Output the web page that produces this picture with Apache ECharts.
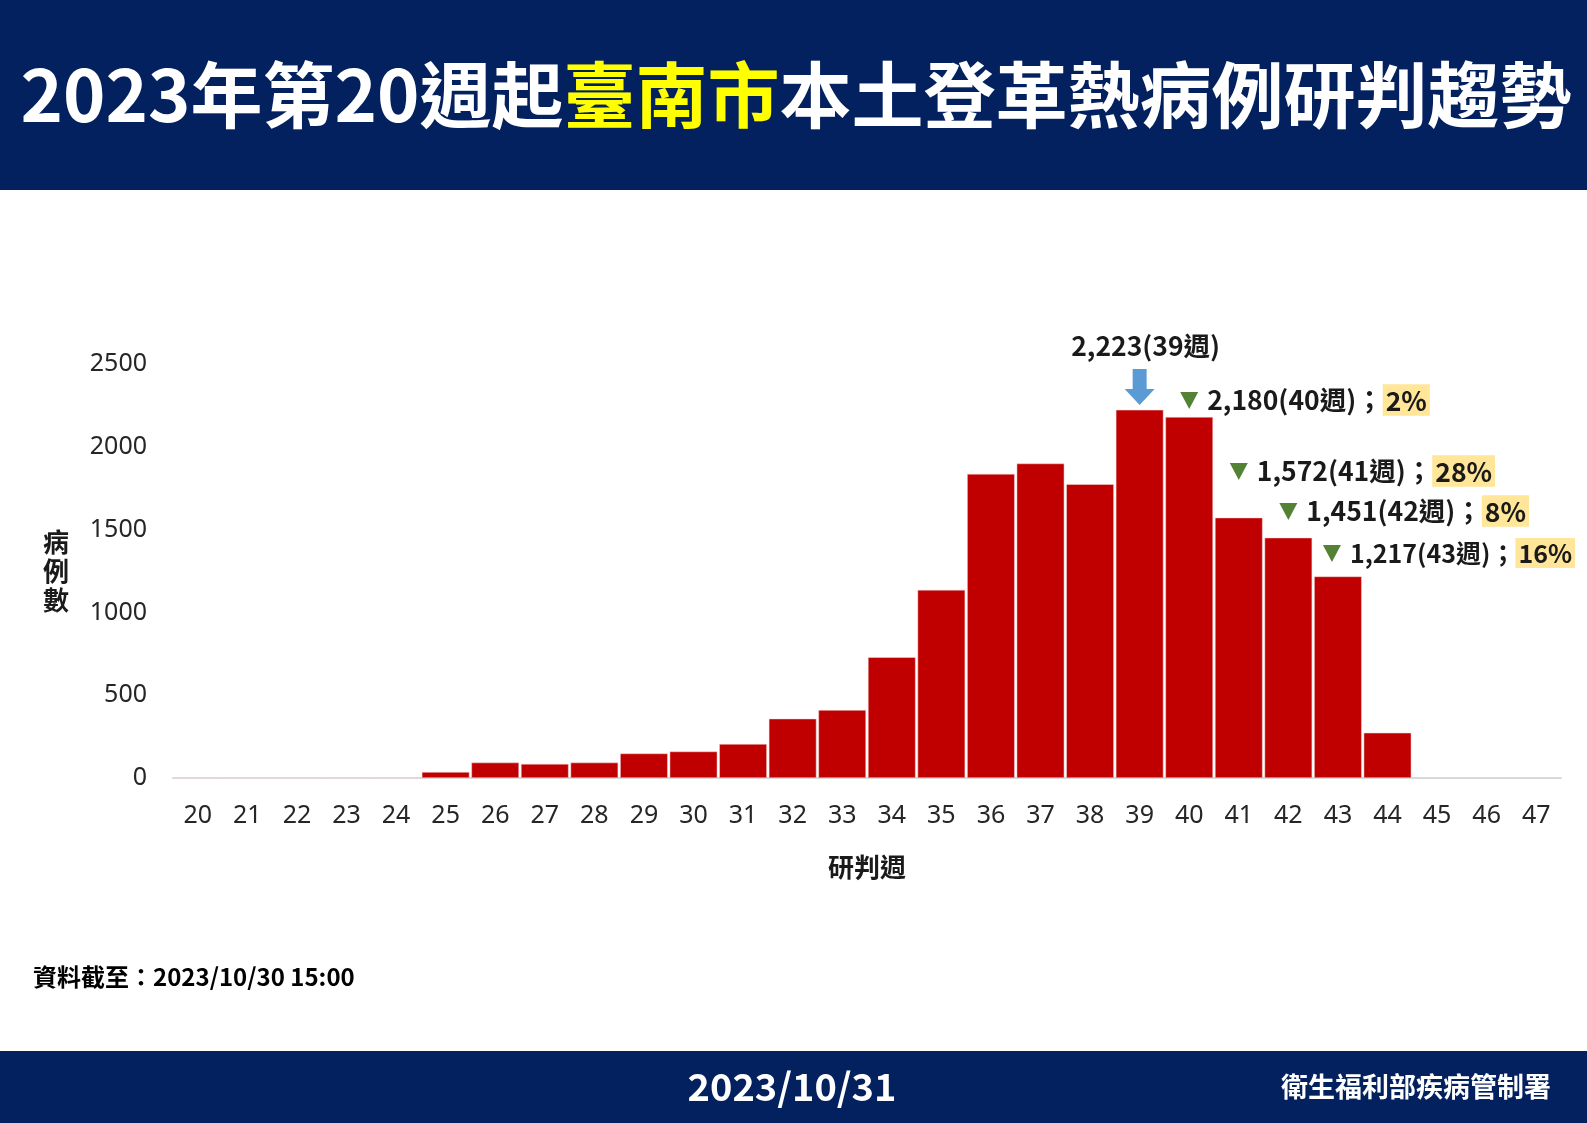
<!DOCTYPE html>
<html>
<head>
<meta charset="utf-8">
<script src="https://cdn.jsdelivr.net/npm/echarts@6/dist/echarts.min.js"></script>
<style>
  html, body { margin: 0; padding: 0; background: #fff; }
  #main { width: 1587px; height: 1123px; }
</style>
</head>
<body>
<div id="main"></div>
<script>
// data
var weeks = ['20', '21', '22', '23', '24', '25', '26', '27', '28', '29', '30', '31', '32', '33',
  '34', '35', '36', '37', '38', '39', '40', '41', '42', '43', '44', '45', '46', '47'];
var cases = [0, 0, 0, 0, 0, 36, 93, 85, 93, 148, 160, 205, 358, 410,
  729, 1136, 1836, 1899, 1774, 2223, 2180, 1572, 1451, 1217, 273, null, null, null];
var yTicks = [0, 500, 1000, 1500, 2000, 2500];
var peakWeek = '39';
var dropWeeks = ['40', '41', '42', '43'];
var dropRowY = [400, 471, 511, 553];
var dropRowShift = [0, 0, 0, -6];
var dropRowSize = [26.5, 26.5, 26.5, 25];

var navy = '#03215F';
var cjk = '"Noto Sans CJK TC", "Noto Sans", sans-serif';
var num = '"Noto Sans", "Noto Sans CJK TC", sans-serif';

var myChart = echarts.init(document.getElementById('main'));

function fmt(v) {
  return v.toLocaleString('en-US');
}

var option = {
  backgroundColor: '#fff',
  animation: false,
  grid: { left: 173, top: 364, width: 1388, height: 414 },
  xAxis: {
    type: 'category',
    data: weeks,
    name: '研判週',
    nameLocation: 'middle',
    nameGap: 76,
    nameTextStyle: { fontFamily: cjk, fontSize: 26, fontWeight: 'bold', color: '#1a1a1a' },
    axisLine: { lineStyle: { color: '#d9d9d9', width: 2 } },
    axisTick: { show: false },
    axisLabel: { fontFamily: num, fontSize: 25, color: '#262626', margin: 25 }
  },
  yAxis: {
    type: 'value',
    min: 0,
    max: yTicks[yTicks.length - 1],
    interval: 500,
    splitLine: { show: false },
    axisLine: { show: false },
    axisTick: { show: false },
    axisLabel: {
      fontFamily: num, fontSize: 25, color: '#262626', margin: 26,
      formatter: function (v) { return String(v); }
    }
  },
  series: [{
    type: 'bar',
    data: cases,
    barCategoryGap: '4%',
    itemStyle: { color: '#C00000', borderColor: '#f3d6d6', borderWidth: 0.5 }
  }]
};
myChart.setOption(option);

function buildGraphic() {
  var g = [];
  // header band and title
  g.push({ type: 'rect', shape: { x: 0, y: 0, width: 1587, height: 190 }, style: { fill: navy }, silent: true });
  g.push({
    type: 'text', x: 796, y: 95,
    style: {
      text: '{w|2023年第20週起}{y|臺南市}{w|本土登革熱病例研判趨勢}',
      align: 'center', verticalAlign: 'middle',
      rich: {
        w: { fill: '#fff', fontSize: 72, fontWeight: 'bold', fontFamily: cjk },
        y: { fill: '#FFFF00', fontSize: 72, fontWeight: 'bold', fontFamily: cjk }
      }
    }
  });
  // footer band
  g.push({ type: 'rect', shape: { x: 0, y: 1051, width: 1587, height: 72 }, style: { fill: navy }, silent: true });
  g.push({
    type: 'text', x: 792, y: 1087,
    style: { text: '2023/10/31', align: 'center', verticalAlign: 'middle', fill: '#fff', fontSize: 38, fontWeight: 'bold', fontFamily: cjk }
  });
  g.push({
    type: 'text', x: 1551, y: 1087,
    style: { text: '衛生福利部疾病管制署', align: 'right', verticalAlign: 'middle', fill: '#fff', fontSize: 27, fontWeight: 'bold', fontFamily: cjk }
  });
  // data note
  g.push({
    type: 'text', x: 33, y: 977,
    style: { text: '資料截至：2023/10/30 15:00', verticalAlign: 'middle', fill: '#000', fontSize: 24, fontWeight: 'bold', fontFamily: cjk }
  });
  // y axis name, vertical
  g.push({
    type: 'text', x: 56, y: 571,
    style: { text: '病\n例\n數', align: 'center', verticalAlign: 'middle', fill: '#1a1a1a', fontSize: 26, fontWeight: 'bold', fontFamily: cjk, lineHeight: 29 }
  });

  // peak annotation
  var pi = weeks.indexOf(peakWeek);
  var peak = myChart.convertToPixel({ seriesIndex: 0 }, [pi, cases[pi]]);
  g.push({
    type: 'text', x: peak[0] + 6, y: 346,
    style: { text: fmt(cases[pi]) + '(' + peakWeek + '週)', align: 'center', verticalAlign: 'middle', fill: '#1a1a1a', fontSize: 26.5, fontWeight: 'bold', fontFamily: cjk }
  });
  var ax = peak[0], at = 369;
  g.push({
    type: 'polygon',
    shape: { points: [[ax - 7, at], [ax + 7, at], [ax + 7, at + 20], [ax + 15, at + 20], [ax, at + 36], [ax - 15, at + 20], [ax - 7, at + 20]] },
    style: { fill: '#5B9BD5' }
  });

  // weekly drop annotations
  dropWeeks.forEach(function (w, k) {
    var i = weeks.indexOf(w);
    var cx = myChart.convertToPixel({ xAxisIndex: 0 }, w) + dropRowShift[k];
    var cy = dropRowY[k];
    var fs = dropRowSize[k];
    var pct = Math.round((cases[i - 1] - cases[i]) / cases[i - 1] * 100);
    g.push({
      type: 'polygon',
      shape: { points: [[cx - 9, cy - 8], [cx + 9, cy - 8], [cx, cy + 9]] },
      style: { fill: '#548235' }
    });
    g.push({
      type: 'text', x: cx + 18, y: cy,
      style: {
        text: '{v|' + fmt(cases[i]) + '(' + w + '週)；}{p|' + pct + '%}',
        verticalAlign: 'middle',
        rich: {
          v: { fill: '#1a1a1a', fontSize: fs, fontWeight: 'bold', fontFamily: cjk },
          p: { fill: '#1a1a1a', fontSize: fs, fontWeight: 'bold', fontFamily: cjk, backgroundColor: '#FFE699', padding: [3, 3, 2, 3] }
        }
      }
    });
  });
  return g;
}

myChart.setOption({ graphic: buildGraphic() });

window.addEventListener('resize', function () {
  myChart.resize();
});
</script>
</body>
</html>
